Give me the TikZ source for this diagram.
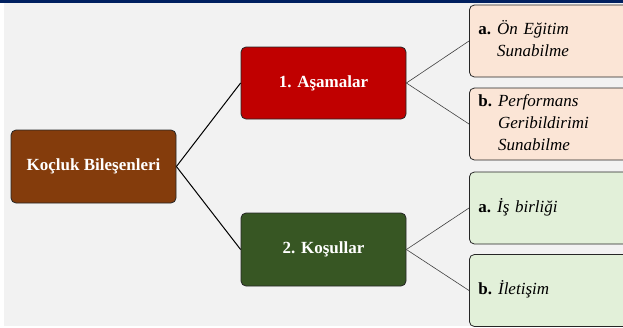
\documentclass[tikz,border=0pt]{standalone}
\usepackage{fontspec}
\setmainfont{Liberation Serif}
\usetikzlibrary{positioning}

\definecolor{barblue}{HTML}{002060}
\definecolor{bggray}{HTML}{F2F2F2}
\definecolor{rootbrown}{HTML}{843C0C}
\definecolor{stagered}{HTML}{C00000}
\definecolor{condgreen}{HTML}{375623}
\definecolor{peach}{HTML}{FBE5D6}
\definecolor{palegreen}{HTML}{E2F0D9}

% bold letter, then the item lines in italics
\newcommand{\leaftext}[2]{\textbf{#1}\hspace{6pt}\begin{tabular}[t]{@{}l@{}}#2\end{tabular}}

\begin{document}
\begin{tikzpicture}[x=1pt,y=-1pt,
	box/.style={draw=black!85,line width=0.8pt,rounded corners=5pt,inner sep=0pt},
	mainbox/.style={box,minimum width=165pt,text=white,font=\fontsize{17}{20}\selectfont\bfseries},
	leafbox/.style={box,anchor=west,minimum height=72pt,text width=152pt,inner xsep=9pt,align=left,font=\fontsize{17}{22}\selectfont},
	trunk/.style={draw=black,line width=1pt},
	twig/.style={draw=black!75,line width=0.6pt}]
				
				% page, background and top bar
				\useasboundingbox (0,0) rectangle (623,327);
				\fill[white] (0,0) rectangle (623,327);
				\fill[bggray] (4,3) rectangle (623,326);
				\fill[barblue] (0,0) rectangle (623,3);
				
				% main boxes
				\node[mainbox,fill=rootbrown,minimum height=73pt] (root) at (93.5,166.5) {Koçluk Bileşenleri};
				\node[mainbox,fill=stagered,minimum height=72pt] (asama) at (323.5,83) {1. Aşamalar};
				\node[mainbox,fill=condgreen,minimum height=73pt] (kosul) at (323.5,249.5) {2. Koşullar};
				
				% leaf boxes, cut off at the right edge
				\node[leafbox,fill=peach] (onegitim) at (469,41) {\leaftext{a.}{\textit{Ön Eğitim}\\\textit{Sunabilme}}};
				\node[leafbox,fill=peach] (geribildirim) at (469,124) {\leaftext{b.}{\textit{Performans}\\\textit{Geribildirimi}\\\textit{Sunabilme}}};
				\node[leafbox,fill=palegreen] (isbirligi) at (469,208) {\leaftext{a.}{\textit{İş birliği}}};
				\node[leafbox,fill=palegreen] (iletisim) at (469,290.5) {\leaftext{b.}{\textit{İletişim}}};
				
				% connectors
				\draw[trunk] (root.east) -- (asama.west);
				\draw[trunk] (root.east) -- (kosul.west);
				\draw[twig] (asama.east) -- (onegitim.west);
				\draw[twig] (asama.east) -- (geribildirim.west);
				\draw[twig] (kosul.east) -- (isbirligi.west);
				\draw[twig] (kosul.east) -- (iletisim.west);
				
\end{tikzpicture}
\end{document}
